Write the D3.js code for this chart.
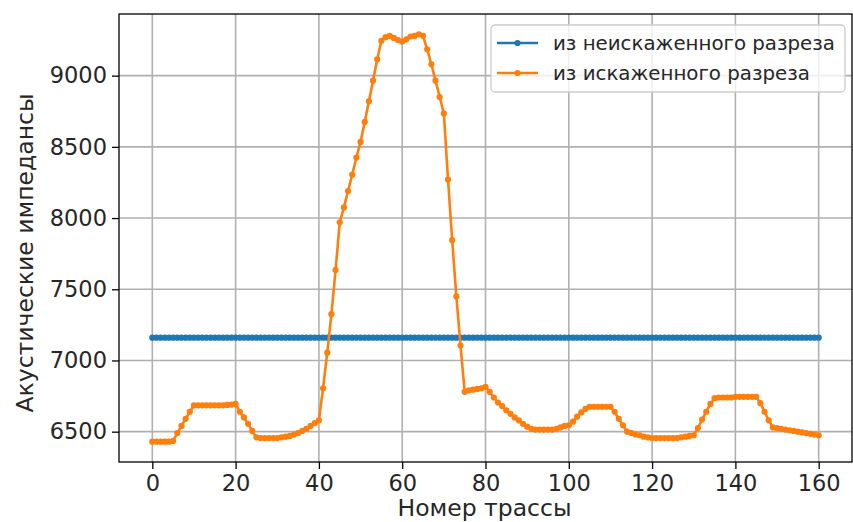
<!DOCTYPE html>
<html>
<head>
<meta charset="utf-8">
<script src="https://cdn.jsdelivr.net/npm/d3@7"></script>
<style>
  html, body { margin: 0; padding: 0; background: #ffffff; }
  svg { display: block; font-family: "DejaVu Sans", sans-serif; }
</style>
</head>
<body>
<svg id="chart" width="853" height="522"></svg>
<script>
// Trace numbers along the profile
const traces = d3.range(0, 161);

// Impedance from the undistorted section (constant)
const undistorted = traces.map(() => 7160);

// Impedance from the distorted section
const distorted = [
  6430, 6430, 6430, 6430, 6430, 6435, 6490, 6540, 6590, 6640,
  6685, 6685, 6685, 6685, 6685, 6685, 6685, 6685, 6688, 6690,
  6695, 6640, 6600, 6555, 6505, 6460, 6455, 6455, 6455, 6455,
  6455, 6460, 6465, 6470, 6480, 6490, 6505, 6520, 6540, 6560,
  6580, 6805, 7055, 7325, 7635, 7970, 8075, 8190, 8305, 8425,
  8535, 8675, 8820, 8965, 9115, 9245, 9270, 9280, 9265, 9250,
  9240, 9255, 9275, 9280, 9290, 9280, 9185, 9080, 8965, 8850,
  8735, 8270, 7845, 7450, 7105, 6780, 6790, 6795, 6800, 6805,
  6815, 6780, 6740, 6705, 6680, 6650, 6625, 6600, 6580, 6555,
  6535, 6520, 6515, 6515, 6515, 6515, 6515, 6520, 6530, 6540,
  6545, 6570, 6605, 6635, 6660, 6675, 6675, 6675, 6675, 6675,
  6675, 6640, 6590, 6545, 6500, 6490, 6480, 6475, 6465, 6460,
  6455, 6455, 6455, 6455, 6455, 6455, 6455, 6460, 6465, 6470,
  6475, 6525, 6585, 6640, 6695, 6735, 6740, 6740, 6740, 6740,
  6745, 6745, 6745, 6745, 6745, 6745, 6700, 6640, 6580, 6530,
  6525, 6520, 6515, 6510, 6505, 6500, 6495, 6490, 6485, 6480,
  6475
];

const xTicks = [0, 20, 40, 60, 80, 100, 120, 140, 160];
const yTicks = [6500, 7000, 7500, 8000, 8500, 9000];

const seriesNames = ["из неискаженного разреза", "из искаженного разреза"];
const seriesColors = ["#1f77b4", "#ff7f0e"];
const xLabel = "Номер трассы";
const yLabel = "Акустические импедансы";

const svg = d3.select("#chart");
const plot = { left: 119, right: 852, top: 14, bottom: 462 };

// Data limits with 5% padding on each side
function padded(lo, hi) {
  const m = (hi - lo) * 0.05;
  return [lo - m, hi + m];
}
const allY = undistorted.concat(distorted);
const x = d3.scaleLinear()
  .domain(padded(d3.min(traces), d3.max(traces)))
  .range([plot.left, plot.right]);
const y = d3.scaleLinear()
  .domain(padded(d3.min(allY), d3.max(allY)))
  .range([plot.bottom, plot.top]);

// Grid
const grid = svg.append("g");
grid.selectAll("line.gx").data(xTicks).join("line")
  .attr("x1", d => x(d)).attr("x2", d => x(d))
  .attr("y1", plot.top).attr("y2", plot.bottom)
  .attr("stroke", "#b0b0b0").attr("stroke-width", 1.6);
grid.selectAll("line.gy").data(yTicks).join("line")
  .attr("x1", plot.left).attr("x2", plot.right)
  .attr("y1", d => y(d)).attr("y2", d => y(d))
  .attr("stroke", "#b0b0b0").attr("stroke-width", 1.6);

// Series
const series = [undistorted, distorted];
const line = d3.line().x((d, i) => x(traces[i])).y(d => y(d));
svg.append("clipPath").attr("id", "clip")
  .append("rect").attr("x", plot.left).attr("y", plot.top)
  .attr("width", plot.right - plot.left).attr("height", plot.bottom - plot.top);
const marks = svg.append("g").attr("clip-path", "url(#clip)");
series.forEach((vals, k) => {
  const g = marks.append("g");
  g.append("path").datum(vals)
    .attr("d", line)
    .attr("fill", "none")
    .attr("stroke", seriesColors[k])
    .attr("stroke-width", 2.6)
    .attr("stroke-linejoin", "round")
    .attr("stroke-linecap", "square");
  g.selectAll("circle").data(vals).join("circle")
    .attr("cx", (d, i) => x(traces[i]))
    .attr("cy", d => y(d))
    .attr("r", 3.1)
    .attr("fill", seriesColors[k]);
});

// Axes
const tickFont = 22.5;
const labelFont = 23.5;
const xAxis = d3.axisBottom(x).tickValues(xTicks).tickSize(7).tickPadding(6.5)
  .tickFormat(d3.format("d"));
const yAxis = d3.axisLeft(y).tickValues(yTicks).tickSize(7).tickPadding(5)
  .tickFormat(d3.format("d"));

const gx = svg.append("g").attr("transform", `translate(0,${plot.bottom})`).call(xAxis);
const gy = svg.append("g").attr("transform", `translate(${plot.left},0)`).call(yAxis);
[gx, gy].forEach(g => {
  g.select(".domain").remove();
  g.selectAll(".tick line").attr("stroke", "#000").attr("stroke-width", 1.3);
  g.selectAll(".tick text").attr("fill", "#262626")
    .style("font-size", tickFont + "px")
    .style("font-family", "'DejaVu Sans', sans-serif");
});

// Frame
svg.append("rect")
  .attr("x", plot.left).attr("y", plot.top)
  .attr("width", plot.right - plot.left).attr("height", plot.bottom - plot.top)
  .attr("fill", "none").attr("stroke", "#000").attr("stroke-width", 1.3);

// Axis titles
svg.append("text")
  .attr("x", (plot.left + plot.right) / 2 - 1).attr("y", 516)
  .attr("text-anchor", "middle").attr("fill", "#262626")
  .style("font-size", labelFont + "px")
  .text(xLabel);
svg.append("text")
  .attr("transform", `translate(33,${(plot.top + plot.bottom) / 2 + 15}) rotate(-90)`)
  .attr("text-anchor", "middle").attr("fill", "#262626")
  .style("font-size", labelFont + "px")
  .text(yLabel);

// Legend
const legend = svg.append("g");
legend.append("rect")
  .attr("x", 491).attr("y", 25).attr("width", 354).attr("height", 67)
  .attr("rx", 4).attr("fill", "#ffffff").attr("fill-opacity", 0.8)
  .attr("stroke", "#cccccc").attr("stroke-width", 1.3);
seriesNames.forEach((name, k) => {
  const cy = 43 + k * 30;
  legend.append("line")
    .attr("x1", 497).attr("x2", 538).attr("y1", cy).attr("y2", cy)
    .attr("stroke", seriesColors[k]).attr("stroke-width", 2.6);
  legend.append("circle").attr("cx", 517.5).attr("cy", cy).attr("r", 3.1)
    .attr("fill", seriesColors[k]);
  legend.append("text")
    .attr("x", 553).attr("y", cy).attr("dy", "0.35em")
    .attr("fill", "#262626")
    .style("font-size", "19.8px")
    .text(name);
});
</script>
</body>
</html>
